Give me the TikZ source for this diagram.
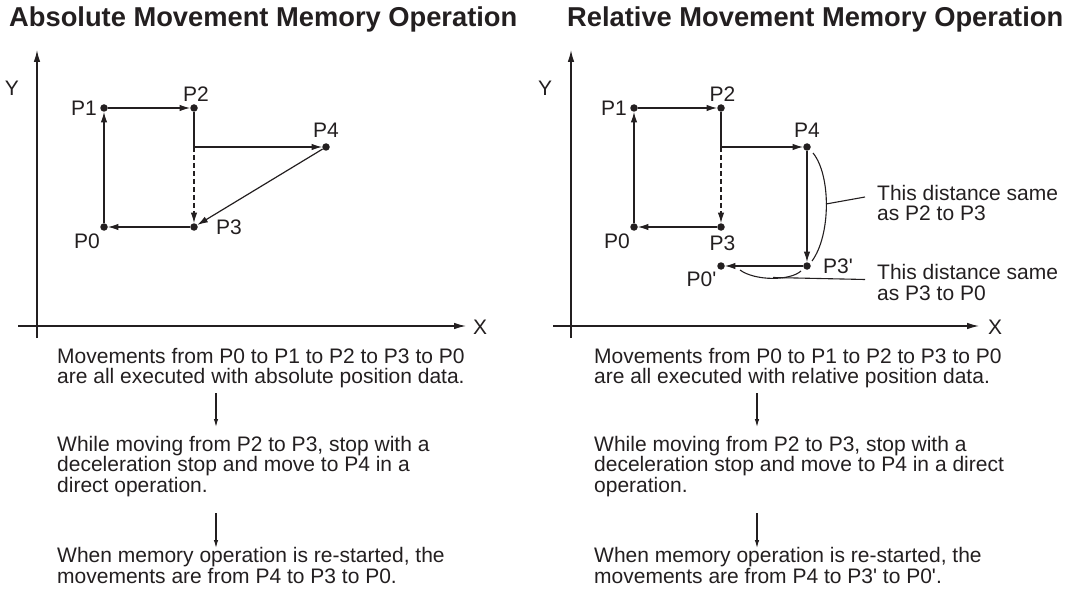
\documentclass[tikz,border=0pt]{standalone}
\usepackage{fontspec}
\setmainfont{Liberation Sans}
\usetikzlibrary{arrows.meta,positioning}

\definecolor{ink}{RGB}{35,31,32}
\newcommand{\pr}{\textquotesingle}

\begin{document}
\begin{tikzpicture}[x=1pt,y=-1pt,color=ink,
  pt/.style={circle,fill=ink,inner sep=0pt,minimum size=7.5pt},
  lbl/.style={inner sep=0pt,font=\fontsize{21}{21}\selectfont},
  txt/.style={inner sep=0pt,align=left,anchor=base west,font=\fontsize{21}{20.7}\selectfont},
  ttl/.style={inner sep=0pt,anchor=base west,font=\fontsize{27.3}{27}\selectfont\bfseries},
  axis/.style={line width=1.2pt,-{Latex[length=12pt,width=6.5pt]}},
  mv/.style={line width=1.2pt,-{Latex[length=10.5pt,width=6.5pt]}},
  flow/.style={line width=1.1pt,-{Latex[length=8pt,width=4.5pt]}},
  brace/.style={line width=1.1pt}]
\useasboundingbox (0,0) rectangle (1085,591);

% absolute movement
\node[ttl] (ttlA) at (9,27) {Absolute Movement Memory Operation};
\coordinate (xA0) at (18,326);
\coordinate (xA1) at (466,326);
\coordinate (yA0) at (37,338);
\coordinate (yA1) at (37,50);
\draw[axis] (xA0) -- (xA1);
\draw[axis] (yA0) -- (yA1);
\node[lbl] (XA) at (480,327) {X};
\node[lbl] (YA) at (12,88) {Y};

\node[pt,label={[lbl,label distance=3pt]180:P1}] (a1) at (104,108) {};
\node[pt,label={[lbl,label distance=2pt,xshift=2pt]90:P2}] (a2) at (194,108) {};
\node[pt,label={[lbl,label distance=5pt]90:P4}] (a4) at (326,147) {};
\node[pt,label={[lbl,label distance=18pt]0:P3}] (a3) at (194,227) {};
\node[pt,label={[lbl,label distance=4pt]-120:P0}] (a0) at (104,227) {};
\coordinate (aj) at (194,147);

\path[mv]
(a0) edge (a1)
(a1) edge (a2)
(a4) edge (a3)
(a3) edge (a0)
;
\draw[mv] (a2) -- (aj) -- (a4);
\draw[mv,dash pattern=on 5pt off 3pt] (aj) -- (a3);

% text blocks are placed at the baseline of their last line
\node[txt] (tA1) at (57,383.7) {Movements from P0 to P1 to P2 to P3 to P0\\are all executed with absolute position data.};
\node[txt] (tA2) at (57,492.4) {While moving from P2 to P3, stop with a\\deceleration stop and move to P4 in a\\direct operation.};
\node[txt] (tA3) at (57,583) {When memory operation is re-started, the\\movements are from P4 to P3 to P0.};
\coordinate (fA1) at (216,393);
\coordinate (fA2) at (216,427);
\coordinate (fA3) at (216,513);
\coordinate (fA4) at (216,548);
\draw[flow] (fA1) -- (fA2);
\draw[flow] (fA3) -- (fA4);

% relative movement
\node[ttl] (ttlR) at (567,27) {Relative Movement Memory Operation};
\coordinate (xR0) at (553,326);
\coordinate (xR1) at (979,326);
\coordinate (yR0) at (571,338);
\coordinate (yR1) at (571,50);
\draw[axis] (xR0) -- (xR1);
\draw[axis] (yR0) -- (yR1);
\node[lbl] (XR) at (995,327) {X};
\node[lbl] (YR) at (545,88) {Y};

\node[pt,label={[lbl,label distance=3pt]180:P1}] (r1) at (634,108) {};
\node[pt,label={[lbl,label distance=2pt,xshift=1.5pt]90:P2}] (r2) at (721,108) {};
\node[pt,label={[lbl,label distance=5pt]90:P4}] (r4) at (807,147) {};
\node[pt,label={[lbl,label distance=4pt]-120:P0}] (r0) at (634,227) {};
\node[pt,label={[lbl,label distance=5pt,xshift=1.5pt]-90:P3}] (r3) at (721,227) {};
\node[pt,label={[lbl,label distance=12pt]0:P3\pr}] (r3p) at (807,266) {};
\node[pt,label={[lbl,label distance=3pt]-130:P0\pr}] (r0p) at (721,266) {};
\coordinate (rj) at (721,147);

\path[mv]
(r0) edge (r1)
(r1) edge (r2)
(r3) edge (r0)
(r4) edge (r3p)
(r3p) edge (r0p)
;
\draw[mv] (r2) -- (rj) -- (r4);
\draw[mv,dash pattern=on 5pt off 3pt] (rj) -- (r3);

% distance marks
\coordinate (b1s) at (813,153);
\coordinate (b1e) at (812,261);
\coordinate (b1m) at (826,204);
\coordinate (b2s) at (801,271);
\coordinate (b2e) at (740,270);
\coordinate (b2m) at (773,277.5);
\coordinate (d1) at (865,197);
\coordinate (d2) at (865,279.5);
\draw[brace] (b1s) .. controls (831,175) and (831,235) .. (b1e);
\draw[brace] (b2s) .. controls (790,281) and (755,281) .. (b2e);
\draw[brace] (b1m) -- (d1);
\draw[brace] (b2m) -- (d2);
\node[txt] (tD1) at (877,221) {This distance same\\as P2 to P3};
\node[txt] (tD2) at (877,300) {This distance same\\as P3 to P0};

\node[txt] (tR1) at (594,383.7) {Movements from P0 to P1 to P2 to P3 to P0\\are all executed with relative position data.};
\node[txt] (tR2) at (594,492.4) {While moving from P2 to P3, stop with a\\deceleration stop and move to P4 in a direct\\operation.};
\node[txt] (tR3) at (594,583) {When memory operation is re-started, the\\movements are from P4 to P3\pr{} to P0\pr.};
\coordinate (fR1) at (757,393);
\coordinate (fR2) at (757,427);
\coordinate (fR3) at (757,513);
\coordinate (fR4) at (757,548);
\draw[flow] (fR1) -- (fR2);
\draw[flow] (fR3) -- (fR4);
\end{tikzpicture}
\end{document}
